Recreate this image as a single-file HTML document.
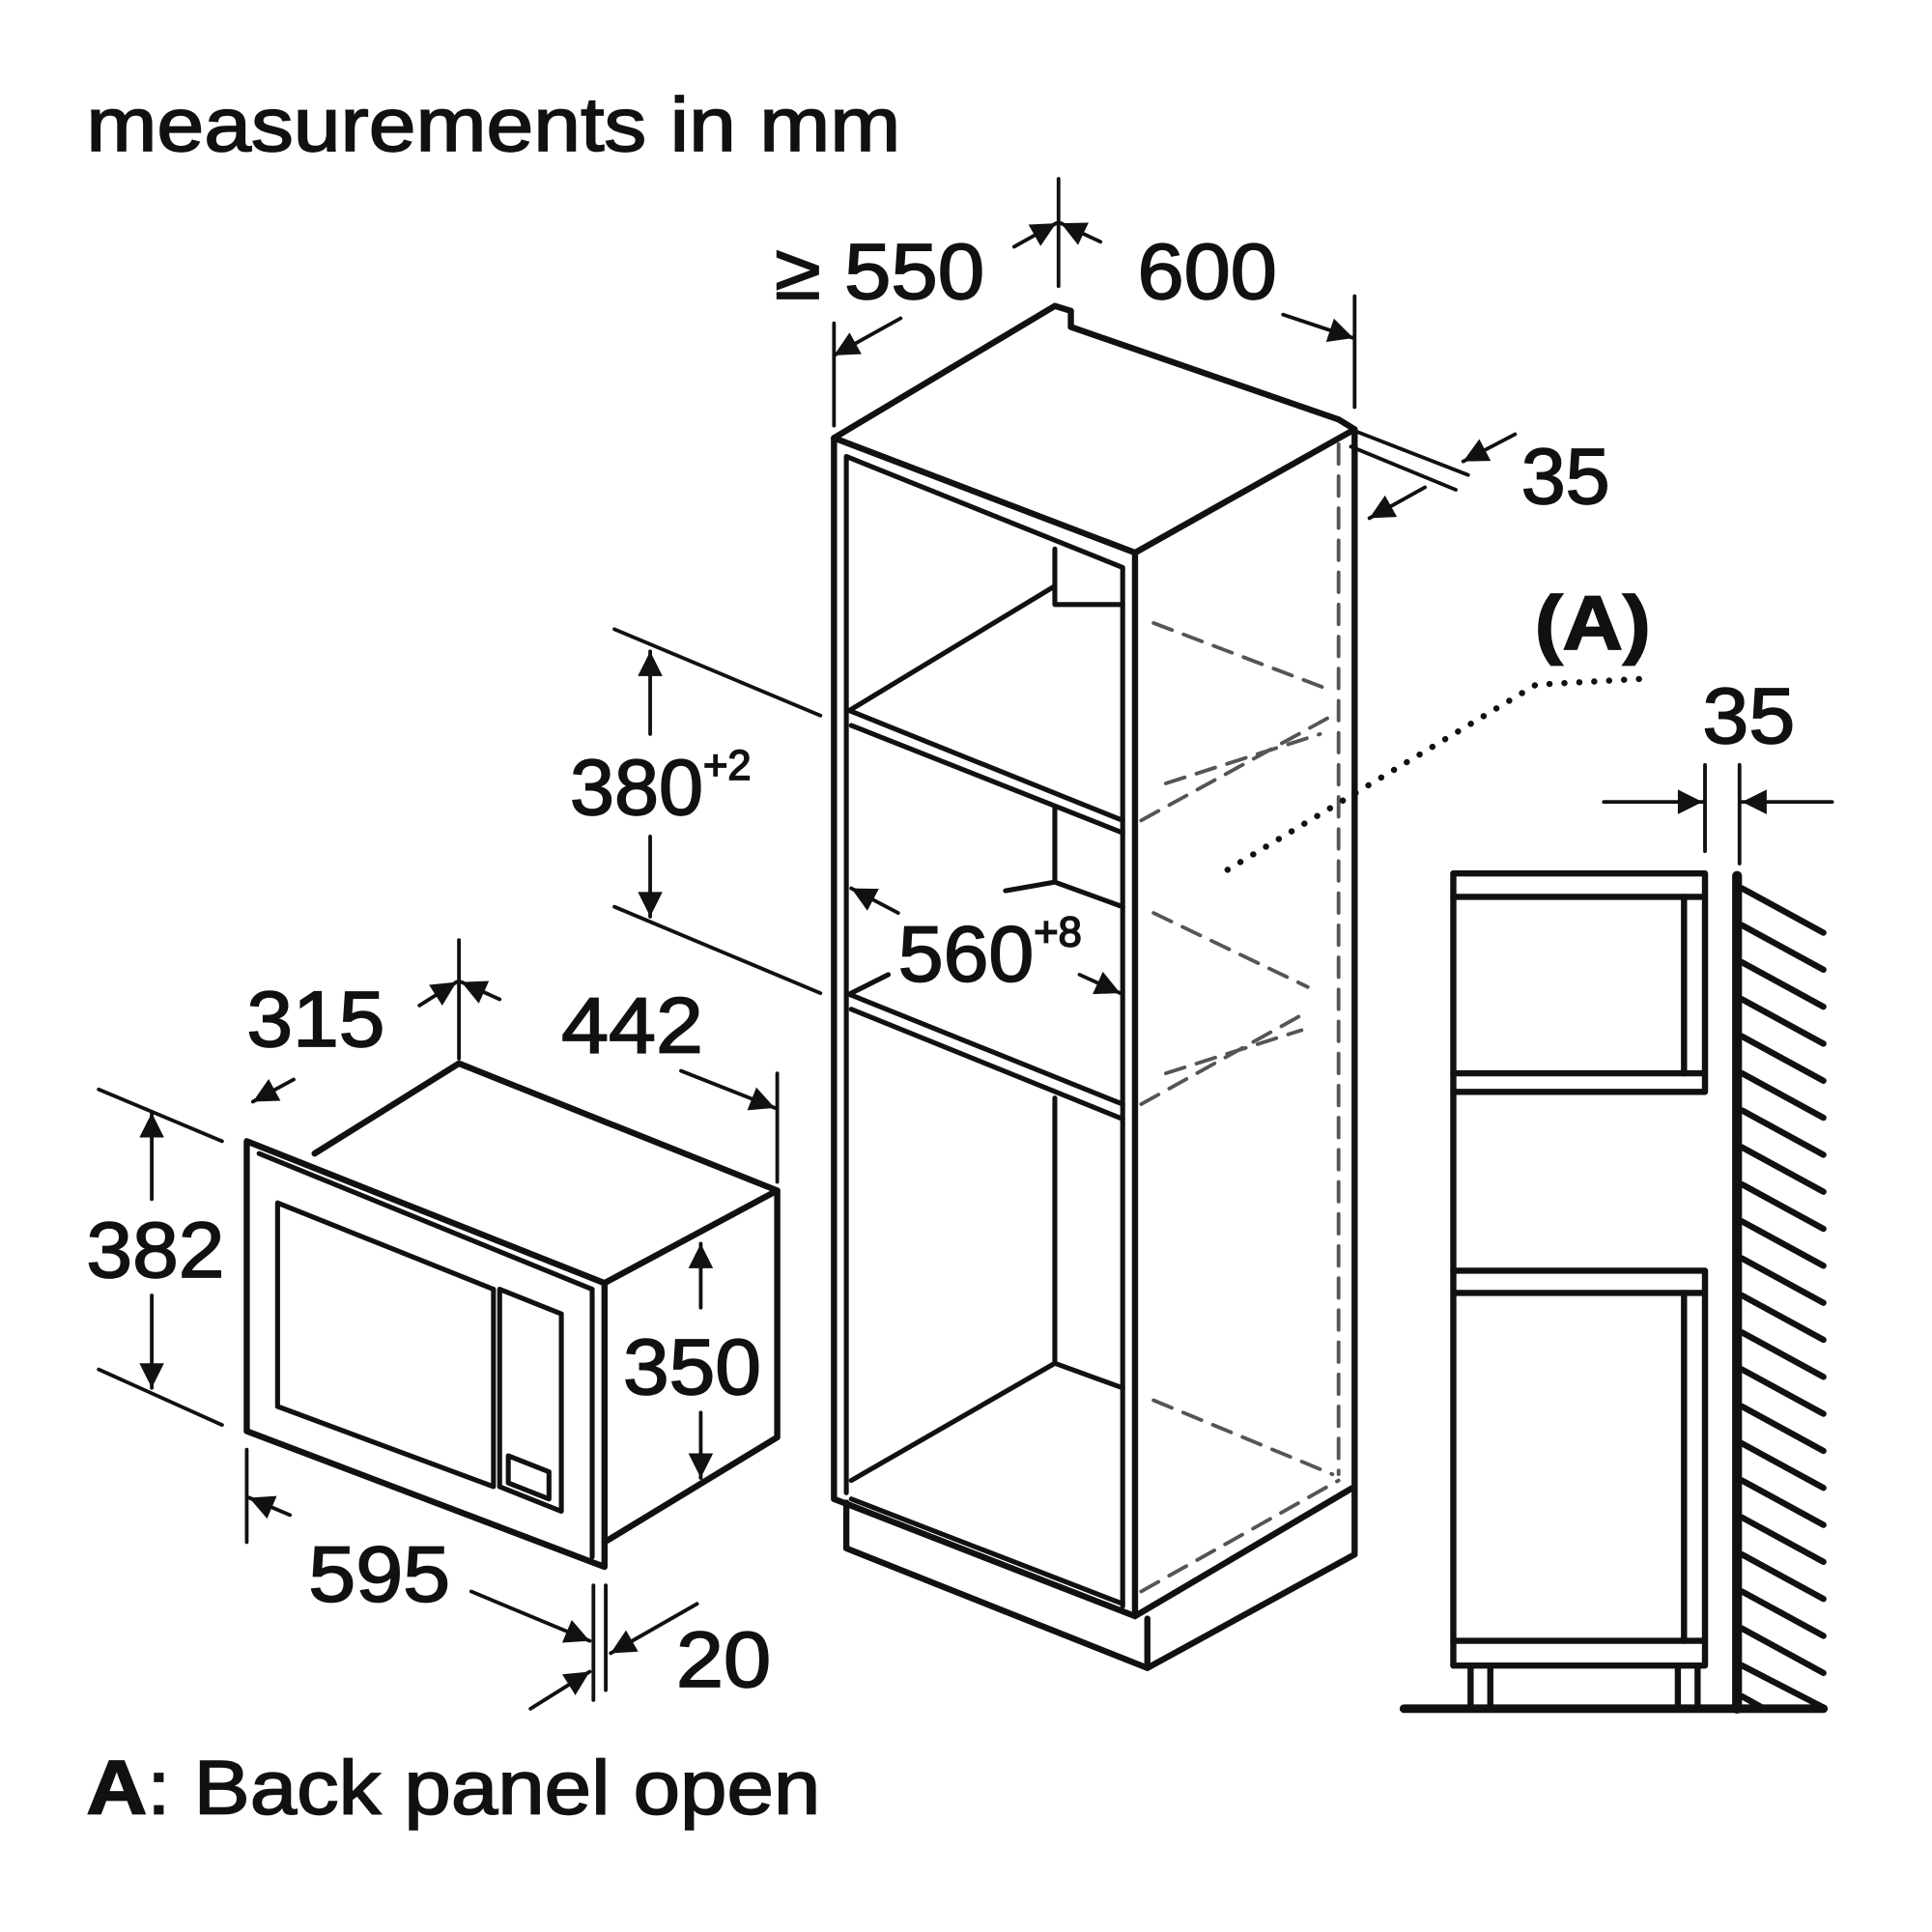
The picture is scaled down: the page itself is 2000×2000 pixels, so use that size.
<!DOCTYPE html>
<html><head><meta charset="utf-8"><style>
html,body{margin:0;padding:0;background:#fff}
svg{display:block}
text{font-family:"Liberation Sans",Arial,sans-serif;fill:#111;stroke:#111;stroke-width:1.3}
</style></head><body>
<svg width="2000" height="2000" viewBox="0 0 1566 1566" xmlns="http://www.w3.org/2000/svg">
<defs>
<marker id="b" viewBox="0 0 10 10" refX="10" refY="5" markerWidth="26" markerHeight="20" orient="auto" markerUnits="userSpaceOnUse">
<path d="M0,0 L10,5 L0,10 z" fill="#111"/></marker>
</defs>
<g fill="none" stroke="#111" stroke-linecap="round" stroke-linejoin="round">

<g stroke-width="5">
<path d="M676,355 L855,248 L868,252 L868,265 L1085,340 L1098,348 L920,448 Z"/>
<path d="M676,355 L676,1215 L920,1310 L920,448"/>
<path d="M1098,348 L1098,1205 L920,1310"/>
<path d="M686,1218 L686,1255 L930,1352 L930,1312"/>
<path d="M930,1352 L1098,1260 L1098,1205"/>
</g>
<g stroke-width="4">
<path d="M686,370 L686,1210 M686,370 L910,460 L910,1302"/>
<path d="M686,575 L910,665 M690,588 L910,675 M690,575 L855,475 M855,445 L855,490 L910,490"/>
<path d="M686,805 L910,895 M690,818 L910,907 M690,805 L720,790 M815,722 L855,715 L910,735 M855,655 L855,715"/>
<path d="M855,890 L855,1105 L910,1125 M690,1200 L855,1105 M690,1215 L910,1300"/>
</g>
<g stroke-width="3" stroke-dasharray="16 10" stroke="#555">
<path d="M1085,360 L1085,1195"/>
<path d="M935,505 L1080,560 M925,665 L1080,580 M945,635 L1070,595"/>
<path d="M935,740 L1060,800 M925,895 L1060,820 M945,870 L1055,835"/>
<path d="M935,1135 L1080,1195 M925,1290 L1085,1200"/>
</g>

<g stroke-width="5">
<path d="M200,925 L490,1040 L490,1270 L200,1160 Z"/>
<path d="M255,935 L372,862 L630,965 L490,1040"/>
<path d="M630,965 L630,1165 L490,1250"/>
</g>
<g stroke-width="4">
<path d="M210,935 L480,1045 L480,1262"/>
<path d="M225,975 L400,1045 L400,1205 L225,1140 Z"/>
<path d="M405,1045 L455,1065 L455,1225 L405,1205 Z"/>
<path d="M412,1180 L445,1193 L445,1215 L412,1202 Z"/>
</g>

<g stroke-width="5">
<path d="M1178,708 L1382,708 L1382,885 L1178,885 M1178,727 L1382,727 M1178,870 L1382,870"/>
<path d="M1178,708 L1178,1350"/>
<path d="M1178,1030 L1382,1030 L1382,1350 L1178,1350 M1178,1048 L1382,1048 M1178,1330 L1382,1330"/>
<path d="M1365,727 L1365,870 M1365,1048 L1365,1330"/>
<path d="M1192,1350 L1192,1385 M1208,1350 L1208,1385 M1360,1350 L1360,1385 M1376,1350 L1376,1385"/>
<path d="M1138,1385 L1478,1385" stroke-width="7"/>
<path d="M1408,710 L1408,1385" stroke-width="8"/>
</g>
<g stroke-width="5">
<path d="M1412,720 L1478,756 M1412,750 L1478,786 M1412,780 L1478,816 M1412,810 L1478,846 M1412,840 L1478,876 M1412,870 L1478,906 M1412,900 L1478,936 M1412,930 L1478,966 M1412,960 L1478,996 M1412,990 L1478,1026 M1412,1020 L1478,1056 M1412,1050 L1478,1086 M1412,1080 L1478,1116 M1412,1110 L1478,1146 M1412,1140 L1478,1176 M1412,1170 L1478,1206 M1412,1200 L1478,1236 M1412,1230 L1478,1266 M1412,1260 L1478,1296 M1412,1290 L1478,1326 M1412,1320 L1478,1356 M1412,1350 L1478,1384 M1412,1375 L1430,1385"/>
</g>

<g stroke-width="3">
<path d="M676,262 L676,345 M858,145 L858,232 M1098,240 L1098,330"/>
<path d="M730,258 L676,288" marker-end="url(#b)"/>
<path d="M822,200 L856,181" marker-end="url(#b)"/>
<path d="M892,196 L860,181" marker-end="url(#b)"/>
<path d="M1040,255 L1097,274" marker-end="url(#b)"/>
<path d="M1100,350 L1190,385 M1095,362 L1180,397"/>
<path d="M1228,352 L1186,374" marker-end="url(#b)"/>
<path d="M1155,395 L1110,420" marker-end="url(#b)"/>
<path d="M498,510 L665,580 M498,735 L665,805"/>
<path d="M527,595 L527,528" marker-end="url(#b)"/>
<path d="M527,678 L527,743" marker-end="url(#b)"/>
<path d="M728,740 L690,720" marker-end="url(#b)"/>
<path d="M875,790 L908,805" marker-end="url(#b)"/>
<path d="M995,705 L1245,555 L1335,550" stroke-width="5" stroke-dasharray="0.1 12"/>
<path d="M1382,620 L1382,690 M1410,620 L1410,700"/>
<path d="M1300,650 L1380,650" marker-end="url(#b)"/>
<path d="M1485,650 L1412,650" marker-end="url(#b)"/>
<path d="M372,762 L372,858 M630,870 L630,958"/>
<path d="M238,875 L205,893" marker-end="url(#b)"/>
<path d="M340,815 L370,796" marker-end="url(#b)"/>
<path d="M405,810 L374,796" marker-end="url(#b)"/>
<path d="M552,868 L628,898" marker-end="url(#b)"/>
<path d="M80,883 L180,925 M80,1110 L180,1155"/>
<path d="M123,972 L123,902" marker-end="url(#b)"/>
<path d="M123,1050 L123,1125" marker-end="url(#b)"/>
<path d="M568,1060 L568,1008" marker-end="url(#b)"/>
<path d="M568,1145 L568,1198" marker-end="url(#b)"/>
<path d="M200,1175 L200,1250"/>
<path d="M235,1228 L202,1214" marker-end="url(#b)"/>
<path d="M382,1290 L478,1330" marker-end="url(#b)"/>
<path d="M481,1285 L481,1378 M491,1285 L491,1370"/>
<path d="M430,1385 L478,1355" marker-end="url(#b)"/>
<path d="M565,1300 L495,1340" marker-end="url(#b)"/>
</g>
</g>

<text x="70" y="122" font-size="62" textLength="660" lengthAdjust="spacingAndGlyphs">measurements in mm</text>
<text x="628" y="242" font-size="64" textLength="170" lengthAdjust="spacingAndGlyphs">≥ 550</text>
<text x="922" y="242" font-size="64" textLength="113" lengthAdjust="spacingAndGlyphs">600</text>
<text x="1233" y="408" font-size="64" textLength="72" lengthAdjust="spacingAndGlyphs">35</text>
<text x="1244" y="526" font-size="62" font-weight="bold" textLength="94" lengthAdjust="spacingAndGlyphs">(A)</text>
<text x="1380" y="602" font-size="64" textLength="75" lengthAdjust="spacingAndGlyphs">35</text>
<text x="462" y="660" font-size="64"><tspan textLength="108" lengthAdjust="spacingAndGlyphs">380</tspan><tspan font-size="34" dy="-28">+2</tspan></text>
<text x="728" y="795" font-size="64"><tspan textLength="110" lengthAdjust="spacingAndGlyphs">560</tspan><tspan font-size="34" dy="-28">+8</tspan></text>
<text x="200" y="848" font-size="64" textLength="112" lengthAdjust="spacingAndGlyphs">315</text>
<text x="455" y="853" font-size="64" textLength="115" lengthAdjust="spacingAndGlyphs">442</text>
<text x="70" y="1035" font-size="64" textLength="112" lengthAdjust="spacingAndGlyphs">382</text>
<text x="505" y="1130" font-size="64" textLength="112" lengthAdjust="spacingAndGlyphs">350</text>
<text x="250" y="1298" font-size="64" textLength="115" lengthAdjust="spacingAndGlyphs">595</text>
<text x="548" y="1367" font-size="64" textLength="77" lengthAdjust="spacingAndGlyphs">20</text>
<text x="70" y="1470" font-size="62" textLength="595" lengthAdjust="spacingAndGlyphs"><tspan font-weight="bold">A</tspan>: Back panel open</text>
</svg>
</body></html>
